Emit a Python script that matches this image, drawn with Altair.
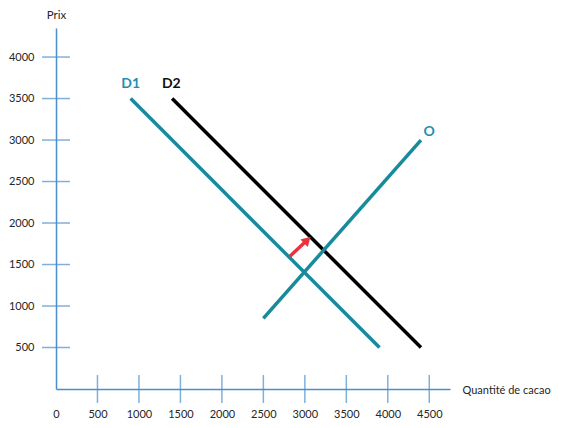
import altair as alt
import pandas as pd

# ---- data ----
d1_x = [900, 3900]
d1_y = [3500, 500]
d2_x = [1400, 4400]
d2_y = [3500, 500]
o_x = [2500, 4400]
o_y = [850, 3000]

arrow_x = [2820, 3030]
arrow_y = [1600, 1795]
arrow_head = {"x": 3030, "y": 1795}

label_text = ["D1", "D2", "O"]
label_x = [900, 1390, 4500]
label_y = [3670, 3670, 3100]
label_color = ["#1F8FB0", "#111111", "#1F8FB0"]

x_ticks = [500, 1000, 1500, 2000, 2500, 3000, 3500, 4000, 4500]
x_labels = [0] + x_ticks
y_ticks = [500, 1000, 1500, 2000, 2500, 3000, 3500, 4000]

# ---- styling ----
AXIS = "#4A8FCB"
TEAL = "#178A9C"
FONT = "Lato"
TXT = "#262626"
W, H = 394, 361

xs = alt.Scale(domain=[0, 4750], nice=False, zero=False)
ys = alt.Scale(domain=[0, 4350], nice=False, zero=False)

lines = pd.DataFrame(
    {
        "x": d1_x + d2_x + o_x,
        "y": d1_y + d2_y + o_y,
        "s": ["D1"] * 2 + ["D2"] * 2 + ["O"] * 2,
    }
)
labels = pd.DataFrame({"x": label_x, "y": label_y, "t": label_text, "c": label_color})
arrow = pd.DataFrame({"x": arrow_x, "y": arrow_y})
head = pd.DataFrame([arrow_head])
xt = pd.DataFrame({"v": x_ticks})
yt = pd.DataFrame({"v": y_ticks})

x_axis = alt.Axis(
    values=x_labels,
    format="d",
    domainColor=AXIS,
    domainWidth=1.5,
    ticks=True,
    tickSize=0,
    grid=False,
    labelFlush=False,
    labelPadding=25,
    labelBaseline="middle",
    labelFont=FONT,
    labelFontSize=11,
    labelColor=TXT,
    title="Quantité de cacao",
    titleFont=FONT,
    titleFontSize=11,
    titleFontWeight="normal",
    titleColor=TXT,
    titleAngle=0,
    titleX=406,
    titleY=1,
    titleAlign="left",
    titleBaseline="middle",
)
y_axis = alt.Axis(
    values=y_ticks,
    format="d",
    domainColor=AXIS,
    domainWidth=1.5,
    ticks=True,
    tickSize=0,
    grid=False,
    labelFlush=False,
    labelPadding=22,
    labelFont=FONT,
    labelFontSize=11,
    labelColor=TXT,
    title="Prix",
    titleFont=FONT,
    titleFontSize=11.5,
    titleFontWeight="normal",
    titleColor=TXT,
    titleAngle=0,
    titleX=0,
    titleY=-13,
    titleAlign="center",
    titleBaseline="middle",
)

line_layer = alt.Chart(lines).mark_line(strokeWidth=3.5).encode(
    x=alt.X("x:Q", scale=xs, axis=x_axis),
    y=alt.Y("y:Q", scale=ys, axis=y_axis),
    detail="s:N",
    color=alt.Color(
        "s:N",
        scale=alt.Scale(domain=["D1", "D2", "O"], range=[TEAL, "#000000", TEAL]),
        legend=None,
    ),
)

ytick_layer = alt.Chart(yt).mark_tick(
    orient="horizontal", size=28, thickness=1.5, color=AXIS
).encode(
    x=alt.X(datum=0, scale=xs),
    y=alt.Y("v:Q", scale=ys),
)
xtick_layer = alt.Chart(xt).mark_tick(
    orient="vertical", size=28, thickness=1.5, color=AXIS
).encode(
    x=alt.X("v:Q", scale=xs),
    y=alt.Y(datum=0, scale=ys),
)

text_layer = alt.Chart(labels).mark_text(
    font=FONT, fontSize=14, fontWeight="bold", align="center", baseline="middle"
).encode(
    x=alt.X("x:Q", scale=xs),
    y=alt.Y("y:Q", scale=ys),
    text="t:N",
    color=alt.Color("c:N", scale=None),
)

arrow_layer = alt.Chart(arrow).mark_line(strokeWidth=3.5, color="#E8343C").encode(
    x=alt.X("x:Q", scale=xs),
    y=alt.Y("y:Q", scale=ys),
)
head_layer = alt.Chart(head).mark_point(
    shape="triangle-up", size=110, filled=True, opacity=1, color="#E8343C", angle=45
).encode(
    x=alt.X("x:Q", scale=xs),
    y=alt.Y("y:Q", scale=ys),
)

chart = (
    alt.layer(line_layer, ytick_layer, xtick_layer, text_layer, arrow_layer, head_layer)
    .properties(
        width=W,
        height=H,
        autosize=alt.AutoSizeParams(type="none"),
        padding={"left": 48, "top": 20, "right": 111, "bottom": 31},
        background="white",
    )
    .configure_view(stroke=None)
)

chart.save("out.html", embed_options={"renderer": "svg", "actions": False})
